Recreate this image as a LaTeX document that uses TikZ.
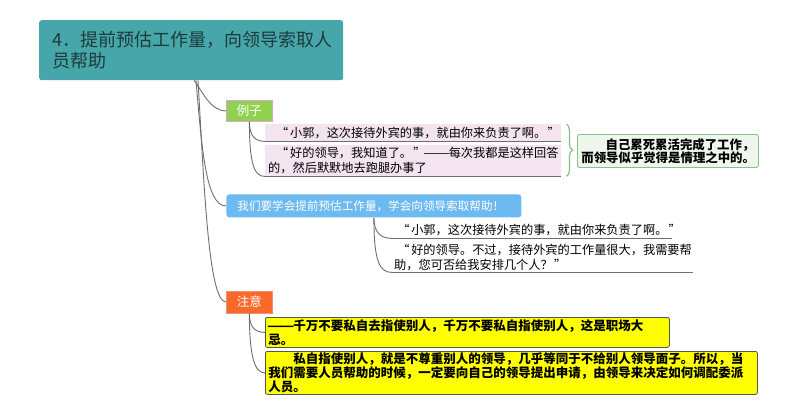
\documentclass[tikz,border=0pt]{standalone}
\usepackage{fontspec}
\usepackage{graphicx}
\setmainfont{Noto Sans CJK SC}
\newcommand\oqt{\makebox[1.4em][r]{“\hspace{0.15em}}}
\newcommand\cqt{\makebox[1em][l]{\hspace{0.1em}”}}
\newcommand\onedash{\makebox[1em]{\scalebox{1.3}[1]{—}}}
\newcommand\ddash{\onedash\onedash}
\usetikzlibrary{calc,decorations.pathreplacing}
\definecolor{teal1}{HTML}{46A6A9}
\definecolor{titletext}{HTML}{1E3B3C}
\definecolor{linegray}{HTML}{6E6E6E}
\definecolor{pinkfill}{HTML}{F3E4F0}
\definecolor{exgreen}{HTML}{92D050}
\definecolor{exborder}{HTML}{D7A6D6}
\definecolor{bracegreen}{HTML}{7CC28C}
\definecolor{sumfill}{HTML}{EEF6EE}
\definecolor{sumborder}{HTML}{86C28A}
\definecolor{blue1}{HTML}{6DBAF0}
\definecolor{orange1}{HTML}{F8692B}
\definecolor{orangeborder}{HTML}{EE8F78}
\definecolor{ylw}{HTML}{FFFF00}
\definecolor{ylwborder}{HTML}{555555}
\begin{document}
\begin{tikzpicture}[x=1pt,y=-1pt,
  conn/.style={draw=linegray, line width=0.9pt},
  uline/.style={draw=linegray, line width=0.9pt},
  titlebox/.style={fill=teal1, rounded corners=2.5pt, anchor=north west, minimum width=304pt, minimum height=60pt, text width=278pt, inner xsep=13pt, inner ysep=0pt, align=left, text=titletext, font=\fontsize{18}{20.5}\selectfont},
  tagbox/.style={anchor=north west, minimum height=21pt, inner ysep=0pt, text=white, font=\fontsize{12.5}{14}\selectfont, line width=0.8pt},
  leaf/.style={anchor=north west, inner xsep=3pt, inner ysep=0pt, align=left, font=\fontsize{12.2}{14.5}\selectfont, text=black},
  pinkleaf/.style={leaf, fill=pinkfill},
  ylwleaf/.style={leaf, fill=ylw, draw=ylwborder, line width=0.8pt, rounded corners=2pt, font=\bfseries\fontsize{12.5}{14}\selectfont},
  sumbox/.style={anchor=north west, fill=sumfill, draw=sumborder, line width=0.8pt, rounded corners=2pt, inner xsep=4pt, inner ysep=0pt, align=right, font=\bfseries\fontsize{12.4}{13}\selectfont}
]
\useasboundingbox (0,0) rectangle (800,415);

\node[titlebox] (title) at (39,20) {4．提前预估工作量，向领导索取人\\员帮助};

% level 1
\node[tagbox, fill=exgreen, draw=exborder, minimum width=46pt] (ex) at (226,100) {例子};
\node[tagbox, fill=blue1, rounded corners=3pt, minimum width=295pt, minimum height=23pt, text width=273pt, inner xsep=11pt, align=left, font=\fontsize{11.6}{14}\selectfont] (wm) at (226,194) {我们要学会提前预估工作量，学会向领导索取帮助！};
\node[tagbox, fill=orange1, draw=orangeborder, minimum width=46pt, minimum height=22pt] (zy) at (226,290.5) {注意};

% example leaves
\node[pinkleaf, text width=290pt, minimum height=17pt] (p1) at (265,124) {\hspace*{0.4em}\oqt 小郭，这次接待外宾的事，就由你来负责了啊。\cqt};
\node[pinkleaf, text width=290pt, minimum height=31pt] (p2) at (265,145) {\hspace*{0.4em}\oqt 好的领导，我知道了。\cqt\ddash 每次我都是这样回答\\的，然后默默地去跑腿办事了};
\draw[uline] (p1.south west) -- (p1.south east);
\draw[uline] (p2.south west) -- (p2.south east);

% brace and summary
\draw[bracegreen, line width=1.2pt, decoration={brace, amplitude=6pt}, decorate]
  ($(p1.north east)+(5,0)$) -- ($(p2.south east)+(5,0)$);
\node[sumbox, text width=173pt, minimum height=33pt] (sum) at (577,134) {自己累死累活完成了工作，\\而领导似乎觉得是情理之中的。};

% blue leaves
\node[leaf, inner xsep=2pt, text width=276pt, minimum height=17pt] (b1) at (392,221) {\oqt 小郭，这次接待外宾的事，就由你来负责了啊。\cqt};
\node[leaf, inner xsep=2pt, text width=297pt, minimum height=29pt] (b2) at (392,243) {\oqt 好的领导。不过，接待外宾的工作量很大，我需要帮\\助，您可否给我安排几个人？\cqt};
\draw[uline] (b1.south west) -- (b1.south east);
\draw[uline] (b2.south west) -- (b2.south east);

% yellow leaves
\node[ylwleaf, text width=398pt, minimum height=30pt] (y1) at (265,317) {\ddash 千万不要私自去指使别人，千万不要私自指使别人，这是职场大\\忌。};
\node[ylwleaf, text width=486pt, minimum height=43pt] (y2) at (265,351) {　　私自指使别人，就是不尊重别人的领导，几乎等同于不给别人领导面子。所以，当\\我们需要人员帮助的时候，一定要向自己的领导提出申请，由领导来决定如何调配委派\\人员。};

% main connectors
\coordinate (h1) at ($(title.south west)+(155,0)$);
\coordinate (h2) at ($(title.south west)+(157,0)$);
\coordinate (h3) at ($(title.south west)+(159,0)$);
\draw[conn] (h1) .. controls ($(h1)+(8,10)$) and ($(ex.west)+(-16,0)$) .. (ex.west);
\draw[conn] (h2) .. controls ($(h2)+(6,70)$) and ($(wm.west)+(-20,0)$) .. (wm.west);
\draw[conn] (h3) .. controls ($(h3)+(6,100)$) and ($(zy.west)+(-18,0)$) .. (zy.west);

% child connectors
\draw[conn] (ex.south) .. controls ($(ex.south)+(0,14)$) and ($(p1.south west)+(-10,0)$) .. (p1.south west);
\draw[conn] (ex.south) .. controls ($(ex.south)+(0,45)$) and ($(p2.south west)+(-10,0)$) .. (p2.south west);
\draw[conn] (wm.south) .. controls ($(wm.south)+(0,14)$) and ($(b1.south west)+(-12,0)$) .. (b1.south west);
\draw[conn] (wm.south) .. controls ($(wm.south)+(0,45)$) and ($(b2.south west)+(-12,0)$) .. (b2.south west);
\draw[conn] (zy.south) .. controls ($(zy.south)+(0,14)$) and ($(y1.west)+(-10,0)$) .. (y1.west);
\draw[conn] (zy.south) .. controls ($(zy.south)+(0,45)$) and ($(y2.west)+(-10,0)$) .. (y2.west);
\end{tikzpicture}
\end{document}
